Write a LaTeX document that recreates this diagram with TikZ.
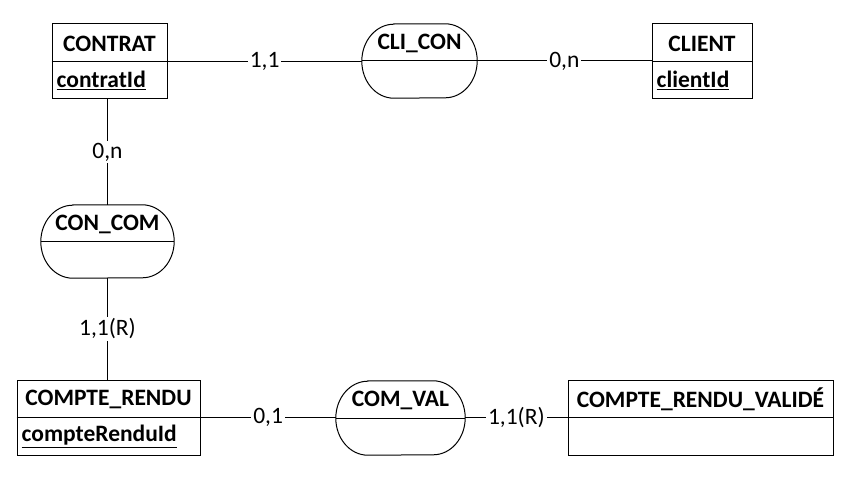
\documentclass[tikz,border=0pt]{standalone}
\usepackage{fontspec}
\setmainfont{Carlito}
\usetikzlibrary{calc}
\newcommand\relnode[7]{% name, cx, cy, w, h, halfh, text
  \node[relbox, minimum width=#4pt, minimum height=#5pt] (#1) at (#2,#3) {};
  \draw[shapeline] ($(#1.north west)+(32,0)$) -- ($(#1.north east)+(-32,0)$)
     arc[start angle=90, end angle=-90, x radius=32pt, y radius=#6pt]
     -- ($(#1.south west)+(32,0)$)
     arc[start angle=270, end angle=90, x radius=32pt, y radius=#6pt] -- cycle;
  \draw[shapeline] (#1.west) -- (#1.east);
  \node[title] (#1-t) at ($(#1.north)!0.5!(#1.center)+(0,-1)$) {#7};
}
\newcommand\entnode[7]{% name, cx, cy, w, h, title, attribute
  \node[entbox, minimum width=#4pt, minimum height=#5pt] (#1) at (#2,#3) {};
  \draw[shapeline] (#1.west) -- (#1.east);
  \node[title] (#1-t) at ($(#1.north)!0.5!(#1.center)+(0,-1)$) {#6};
  \node[attr] (#1-a) at ($(#1.west)!0.5!(#1.south west)+(5,0)$) {#7};
}
\begin{document}
\begin{tikzpicture}[x=1pt,y=1pt,
  font=\fontsize{23.5}{28}\selectfont,
  shapeline/.style={line width=1pt, draw=black},
  entbox/.style={draw=black, line width=1pt, inner sep=0pt, fill=white},
  relbox/.style={draw=none, inner sep=0pt},
  title/.style={font=\fontsize{23.5}{28}\selectfont\bfseries, inner sep=0pt},
  attr/.style={font=\fontsize{23.5}{28}\selectfont\bfseries, inner sep=0pt, anchor=west},
  link/.style={line width=1pt, draw=black},
  lbl/.style={fill=white, inner sep=2pt, midway}
]
\useasboundingbox[fill=white] (0,-500) rectangle (862,0);

\entnode{contrat}{109.5}{-61.5}{115}{75}{CONTRAT}{\underline{contratId}}
\entnode{client}{702}{-61.5}{100}{75}{CLIENT}{\underline{clientId}}
\entnode{cr}{108.5}{-417.5}{183}{75}{COMPTE\_RENDU}{\underline{compteRenduId}}
\entnode{crv}{700.5}{-417.5}{265}{75}{COMPTE\_RENDU\_VALIDÉ}{}

\relnode{clicon}{419.5}{-61}{115}{74}{37}{CLI\_CON}
\relnode{concom}{107.5}{-241.5}{133}{73}{36.5}{CON\_COM}
\relnode{comval}{400.5}{-418}{129}{74}{37}{COM\_VAL}

\draw[link] (contrat.east) -- (contrat.east -| clicon.west) node[lbl] (l1) {1,1};
\draw[link] (clicon.east) -- (clicon.east -| client.west) node[lbl] (l2) {0,n};
\draw[link] (concom.north |- contrat.south) -- (concom.north) node[lbl] (l3) {0,n};
\draw[link] (concom.south) -- (concom.south |- cr.north) node[lbl] (l4) {1,1(R)};
\draw[link] (cr.east) -- (cr.east -| comval.west) node[lbl] (l5) {0,1};
\draw[link] (comval.east |- cr.east) -- (cr.east -| crv.west) node[lbl] (l6) {1,1(R)};
\end{tikzpicture}
\end{document}
